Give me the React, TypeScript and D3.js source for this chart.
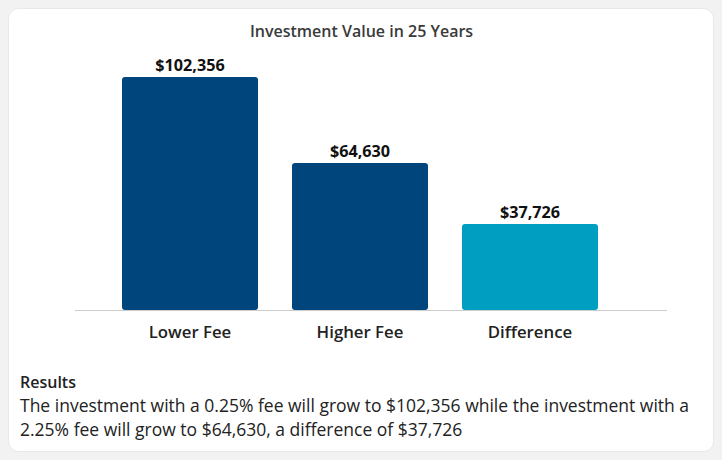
import React from "react";
import * as d3 from "d3";

const categories = ["Lower Fee", "Higher Fee", "Difference"];
const values = [102356, 64630, 37726];
const barColors = ["#00467d", "#00467d", "#009fc2"];
const title = "Investment Value in 25 Years";
const resultsHeading = "Results";
const resultsLines = [
  "The investment with a 0.25% fee will grow to $102,356 while the investment with a",
  "2.25% fee will grow to $64,630, a difference of $37,726",
];

const W = 722;
const H = 460;
const FONT = "'Open Sans', sans-serif";

export default function App() {
  const x = d3.scaleBand<string>().domain(categories).range([105, 615]).paddingInner(0.2).paddingOuter(0.1);
  const y = d3.scaleLinear().domain([0, 102356]).range([310, 77]);
  const fmt = (v: number) => "$" + d3.format(",")(v);
  return (
    <div style={{ position: "fixed", left: 0, top: 0 }}>
      <svg width={W} height={H} style={{ display: "block" }}>
        <rect x={0} y={0} width={W} height={H} fill="#f2f2f2" />
        <rect x={8.5} y={8.5} width={705} height={443} rx={10} fill="#ffffff" stroke="#e8e8e8" />
        <text x={361.5} y={37} textAnchor="middle" fontFamily={FONT} fontSize={16} fontWeight={600} fill="#3a3a3a">
          {title}
        </text>
        <line x1={75} x2={667} y1={310.5} y2={310.5} stroke="#cccccc" />
        {categories.map((c, i) => (
          <g key={c}>
            <rect x={x(c)} y={y(values[i])} width={x.bandwidth()} height={y(0) - y(values[i])} rx={3} fill={barColors[i]} />
            <text x={(x(c) as number) + x.bandwidth() / 2} y={y(values[i]) - 6} textAnchor="middle" fontFamily={FONT} fontSize={16.2} fontWeight={700} fill="#111">
              {fmt(values[i])}
            </text>
            <text x={(x(c) as number) + x.bandwidth() / 2} y={338} textAnchor="middle" fontFamily={FONT} fontSize={16.8} fontWeight={600} fill="#222">
              {c}
            </text>
          </g>
        ))}
        <text x={20} y={388} fontFamily={FONT} fontSize={16} fontWeight={600} fill="#222">
          {resultsHeading}
        </text>
        {resultsLines.map((l, i) => (
          <text key={i} x={20} y={412 + i * 24} fontFamily={FONT} fontSize={17.5} fill="#222">
            {l}
          </text>
        ))}
      </svg>
    </div>
  );
}
